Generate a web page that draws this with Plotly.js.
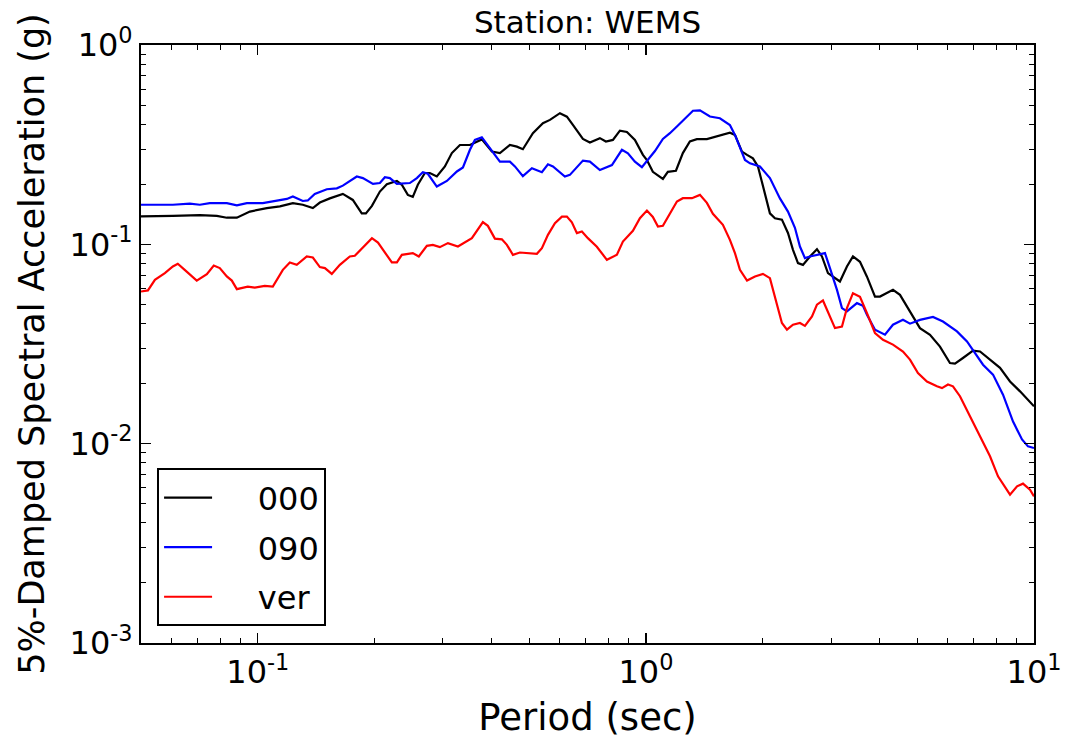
<!DOCTYPE html>
<html>
<head>
<meta charset="utf-8">
<script src="https://cdn.plot.ly/plotly-3.0.1.min.js"></script>
<style>html,body{margin:0;padding:0;background:#fff;}#chart{width:1067px;height:741px;}</style>
</head>
<body>
<div id="chart"></div>
<script>
// ---- Data (period in s, 5%-damped spectral acceleration in g) ----
const period000 = [0.05,0.0527,0.0604,0.0709,0.0784,0.0832,0.0883,0.0954,0.1055,0.114,0.1231,0.1306,0.1386,0.1445,0.1533,0.1656,0.1757,0.1853,0.1899,0.1968,0.2063,0.215,0.2282,0.235,0.2435,0.2508,0.2584,0.2694,0.2775,0.2892,0.3034,0.3162,0.3317,0.352,0.3778,0.401,0.4205,0.4462,0.4651,0.4819,0.5114,0.5427,0.5659,0.6004,0.6257,0.6484,0.6881,0.7172,0.761,0.7886,0.8222,0.857,0.8934,0.9368,0.9824,1.006,1.042,1.106,1.139,1.195,1.245,1.298,1.353,1.436,1.551,1.646,1.696,1.768,1.822,1.887,1.944,2.026,2.087,2.15,2.241,2.323,2.393,2.465,2.539,2.647,2.759,2.842,2.945,3.162,3.296,3.416,3.561,3.712,3.893,4.01,4.331,4.515,4.791,5.083,5.395,5.724,6.074,6.257,6.561,6.964,7.259,7.703,8.174,8.674,9.204,10];
const sa000 = [0.138,0.138,0.139,0.140,0.139,0.136,0.136,0.146,0.152,0.155,0.161,0.158,0.152,0.162,0.170,0.179,0.167,0.143,0.143,0.156,0.184,0.200,0.208,0.199,0.177,0.173,0.199,0.228,0.228,0.219,0.246,0.287,0.315,0.315,0.336,0.292,0.287,0.315,0.309,0.300,0.361,0.405,0.421,0.455,0.437,0.397,0.338,0.324,0.341,0.328,0.334,0.372,0.366,0.334,0.281,0.265,0.231,0.213,0.231,0.234,0.287,0.328,0.337,0.337,0.350,0.363,0.354,0.292,0.281,0.270,0.246,0.181,0.143,0.135,0.133,0.114,0.0939,0.0805,0.0789,0.0869,0.0946,0.0869,0.0717,0.0651,0.0774,0.0869,0.0817,0.0688,0.0547,0.0547,0.0591,0.0558,0.0461,0.0380,0.0352,0.0307,0.0254,0.0252,0.0269,0.0293,0.0290,0.0264,0.0240,0.0205,0.0183,0.0154];

const period090 = [0.05,0.0604,0.0668,0.0709,0.0752,0.0832,0.0883,0.0937,0.103,0.1119,0.1188,0.1231,0.1306,0.1345,0.1402,0.1506,0.1598,0.1656,0.1799,0.1865,0.198,0.2063,0.2125,0.2189,0.2282,0.2464,0.2569,0.2662,0.2742,0.2892,0.307,0.3258,0.3377,0.352,0.3625,0.3778,0.3915,0.4205,0.4462,0.4597,0.4819,0.5084,0.5395,0.5592,0.576,0.6183,0.6369,0.6881,0.7172,0.761,0.8174,0.8672,0.8988,0.9368,0.9765,1.012,1.055,1.106,1.153,1.202,1.245,1.322,1.378,1.462,1.551,1.646,1.696,1.747,1.800,1.854,1.967,2.087,2.215,2.323,2.421,2.494,2.569,2.647,2.809,2.893,2.98,3.107,3.2,3.296,3.498,3.625,3.712,3.893,4.13,4.331,4.596,4.791,5.083,5.492,5.827,6.332,6.719,7.131,7.39,7.841,8.321,8.83,9.314,9.65,10];
const sa090 = [0.158,0.158,0.160,0.158,0.161,0.161,0.157,0.161,0.161,0.165,0.169,0.174,0.165,0.166,0.179,0.189,0.191,0.197,0.219,0.215,0.201,0.203,0.217,0.215,0.201,0.203,0.215,0.230,0.226,0.195,0.208,0.232,0.243,0.298,0.334,0.344,0.312,0.260,0.260,0.246,0.220,0.241,0.230,0.252,0.246,0.219,0.223,0.263,0.260,0.236,0.250,0.298,0.286,0.260,0.244,0.265,0.294,0.338,0.361,0.390,0.418,0.468,0.470,0.438,0.429,0.397,0.354,0.309,0.265,0.255,0.246,0.215,0.170,0.146,0.121,0.0975,0.0853,0.0869,0.0893,0.0904,0.0760,0.0591,0.0479,0.0461,0.0507,0.0492,0.0443,0.0373,0.0352,0.0395,0.0418,0.0400,0.0418,0.0432,0.0410,0.0366,0.0326,0.0274,0.0249,0.0222,0.0176,0.0129,0.0105,0.00969,0.00951];

const periodVer = [0.05,0.0521,0.0543,0.0576,0.0604,0.0622,0.0648,0.0696,0.0739,0.077,0.0798,0.0832,0.0857,0.0883,0.0942,0.0982,0.1042,0.1093,0.116,0.1209,0.126,0.1337,0.1386,0.1445,0.1489,0.1551,0.1627,0.1726,0.1778,0.1968,0.204,0.2215,0.2282,0.235,0.2508,0.2599,0.2726,0.2825,0.2945,0.3089,0.3278,0.3561,0.3801,0.3915,0.4082,0.4255,0.4383,0.4542,0.4735,0.5024,0.5237,0.5395,0.5592,0.5829,0.6075,0.6257,0.6445,0.664,0.684,0.7087,0.7475,0.7933,0.8419,0.8724,0.9257,0.965,1.006,1.042,1.074,1.106,1.153,1.202,1.245,1.314,1.378,1.436,1.488,1.533,1.579,1.646,1.696,1.747,1.822,1.91,2.002,2.087,2.15,2.241,2.309,2.393,2.494,2.569,2.679,2.759,2.859,2.98,3.07,3.2,3.296,3.416,3.561,3.712,3.893,4.082,4.331,4.596,4.791,5.023,5.298,5.623,5.793,6.003,6.183,6.445,6.84,7.259,7.703,8.077,8.52,8.674,9.042,9.367,9.765,10];
const saVer = [0.0580,0.0587,0.0664,0.0717,0.0774,0.0799,0.0745,0.0658,0.0709,0.0783,0.0760,0.0690,0.0658,0.0596,0.0614,0.0607,0.0619,0.0614,0.0745,0.0811,0.0789,0.0869,0.0859,0.0769,0.0760,0.0711,0.0789,0.0869,0.0876,0.1074,0.1021,0.0811,0.0811,0.0886,0.0904,0.0869,0.0983,0.0994,0.0968,0.1014,0.0975,0.1074,0.1292,0.1238,0.1068,0.1060,0.0994,0.0886,0.0910,0.0904,0.0896,0.0957,0.1116,0.1277,0.1378,0.1378,0.1289,0.1138,0.1159,0.1074,0.0972,0.0836,0.0886,0.1033,0.1169,0.1353,0.1477,0.1373,0.1228,0.1238,0.1433,0.1639,0.1704,0.1704,0.1770,0.1614,0.1422,0.1327,0.1252,0.1053,0.0904,0.0745,0.0658,0.0690,0.0711,0.0677,0.0547,0.0403,0.0373,0.0395,0.0403,0.0390,0.0435,0.0498,0.0523,0.0435,0.0380,0.0387,0.0479,0.0569,0.0546,0.0452,0.0359,0.0332,0.0314,0.0290,0.0264,0.0226,0.0205,0.0194,0.0190,0.0198,0.0194,0.0173,0.0137,0.0109,0.00864,0.00686,0.00588,0.00555,0.00611,0.00630,0.00588,0.00544];

const seriesNames = ['000', '090', 'ver'];
const seriesColors = ['#000000', '#0000ff', '#ff0000'];

const yTickVals = [0.001, 0.01, 0.1, 1];
const yTickText = ['10<sup>-3</sup>', '10<sup>-2</sup>', '10<sup>-1</sup>', '10<sup>0</sup>'];
const xTickVals = [0.1, 1, 10];
const xTickText = ['10<sup>-1</sup>', '10<sup>0</sup>', '10<sup>1</sup>'];

const chartTitle = 'Station: WEMS';
const xTitle = 'Period (sec)';
const yTitle = '5%-Damped Spectral Acceleration (g)';

// minor tick positions (2..9 within each decade)
function minorVals(lo, hi) {
  const v = [];
  for (let e = lo; e < hi; e++) for (let d = 2; d <= 9; d++) v.push(d * Math.pow(10, e));
  return v;
}

const FONT = 'DejaVu Sans, Liberation Sans, sans-serif';
const PAD = '\u00a0\u00a0\u00a0\u00a0'; // gap between legend sample line and label

const xs = [period000, period090, periodVer];
const ys = [sa000, sa090, saVer];
const traces = seriesNames.map((n, i) => ({
  x: xs[i], y: ys[i], name: PAD + n, legendgroup: 'g' + i,
  type: 'scatter', mode: 'lines',
  line: {color: seriesColors[i], width: 2.2}
}));

const axisCommon = {
  type: 'log', showgrid: false, zeroline: false,
  showline: true, linecolor: '#000', linewidth: 2, mirror: 'allticks',
  ticks: 'inside', ticklen: 10, tickwidth: 1.2, tickcolor: '#000',
  tickmode: 'array',
  tickfont: {family: FONT, size: 32, color: '#000'}
};

const layout = {
  width: 1067, height: 741,
  margin: {l: 141, r: 33, t: 45, b: 98},
  paper_bgcolor: '#fff', plot_bgcolor: '#fff',
  font: {family: FONT, color: '#000'},
  title: {text: chartTitle, font: {family: FONT, size: 31, color: '#000'},
          x: 0.5, xref: 'paper', y: 1 - 22 / 741, yref: 'container', yanchor: 'middle'},
  xaxis: Object.assign({}, axisCommon, {
    range: [Math.log10(0.05), 1],
    tickvals: xTickVals, ticktext: xTickText,
    minor: {tickmode: 'array', tickvals: minorVals(-2, 1), ticks: 'inside', ticklen: 5, tickwidth: 1, tickcolor: '#000', showgrid: false},
    title: {text: xTitle, font: {family: FONT, size: 37, color: '#000'}, standoff: 14}
  }),
  yaxis: Object.assign({}, axisCommon, {
    range: [-3, 0],
    tickvals: yTickVals, ticktext: yTickText,
    minor: {tickmode: 'array', tickvals: minorVals(-3, 0), ticks: 'inside', ticklen: 5, tickwidth: 1, tickcolor: '#000', showgrid: false},
    title: {text: yTitle, font: {family: FONT, size: 35, color: '#000'}, standoff: 14}
  }),
  showlegend: true,
  legend: {
    x: 0.018, y: 0.028, xanchor: 'left', yanchor: 'bottom',
    bgcolor: '#fff', bordercolor: '#000', borderwidth: 2,
    font: {family: FONT, size: 32, color: '#000'},
    itemwidth: 48, tracegroupgap: 5
  }
};

Plotly.newPlot('chart', traces, layout, {displayModeBar: false, staticPlot: true});
</script>
</body>
</html>
